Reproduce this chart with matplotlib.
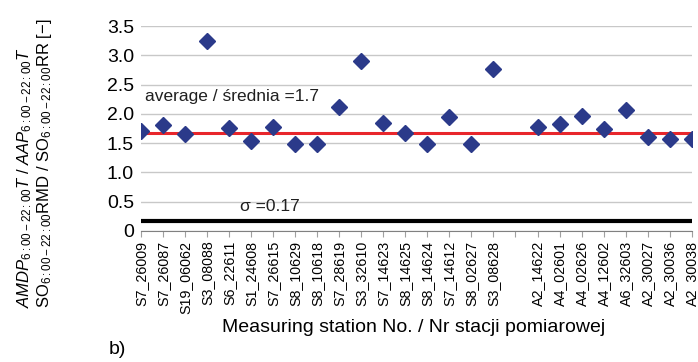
import matplotlib
matplotlib.use("Agg")
import matplotlib.pyplot as plt

plt.rcParams['font.family'] = ['Liberation Sans', 'DejaVu Sans']
plt.rcParams['mathtext.fontset'] = 'custom'
plt.rcParams['mathtext.rm'] = 'Liberation Sans'
plt.rcParams['mathtext.it'] = 'Liberation Sans:italic'

# station labels, "" marks the empty slot between the S and A groups
stations = ["S7_26009", "S7_26087", "S19_06062", "S3_08088", "S6_22611", "S1_24608",
            "S7_26615", "S8_10629", "S8_10618", "S7_28619", "S3_32610", "S7_14623",
            "S8_14625", "S8_14624", "S7_14612", "S8_02627", "S3_08628", "",
            "A2_14622", "A4_02601", "A4_02626", "A4_12602", "A6_32603", "A2_30027",
            "A2_30036", "A2_30038"]
ratio = [1.70, 1.81, 1.65, 3.24, 1.76, 1.53, 1.77, 1.49, 1.49, 2.12, 2.91, 1.85,
         1.67, 1.49, 1.95, 1.49, 2.77, None,
         1.78, 1.83, 1.97, 1.75, 2.06, 1.60, 1.57, 1.57]
average = 1.68
sigma = 0.17

fig = plt.figure(figsize=(6.98, 3.62), dpi=100)
ax = fig.add_axes([0.202, 0.362, 0.789, 0.566])

xs = [i for i, v in enumerate(ratio) if v is not None]
ys = [v for v in ratio if v is not None]

ax.set_ylim(0, 3.5)
ax.set_xlim(0, len(stations) - 1)
ax.set_yticks([0, 0.5, 1.0, 1.5, 2.0, 2.5, 3.0, 3.5])
ax.set_yticklabels(["0", "0.5", "1.0", "1.5", "2.0", "2.5", "3.0", "3.5"], fontsize=14)
ax.yaxis.grid(True, color="#c8c8c8", linewidth=1)
ax.set_axisbelow(True)

ax.axhline(average, color="#e8262b", linewidth=2.2, zorder=2)
ax.axhline(sigma, color="black", linewidth=3, zorder=2)
ax.plot(xs, ys, linestyle="none", marker="D", markersize=8, color="#2b3a8a", zorder=3)

ax.set_xticks(range(len(stations)))
ax.set_xticklabels(stations, rotation=90, fontsize=10.3)
ax.tick_params(axis="x", length=4, color="#a0a0a0", pad=3)
ax.tick_params(axis="y", length=0, pad=5)
for s in ["top", "right", "left"]:
    ax.spines[s].set_visible(False)
ax.spines["bottom"].set_color("#808080")
ax.spines["bottom"].set_clip_on(False)

ax.text(0.18, 2.29, "average / średnia =1.7", fontsize=12.5, va="center", ha="left",
        color="#202020", bbox=dict(facecolor="white", edgecolor="none", pad=1))
ax.text(4.5, 0.41, "σ =0.17", fontsize=12.5, va="center", ha="left", color="#202020")

# x axis title sits just under the rotated station names
fig.text(0.593, 0.083, "Measuring station No. / Nr stacji pomiarowej",
         fontsize=14, ha="center", va="baseline")

fig.text(0.036, 0.149, r"$AMDP_{\rm 6:00-22:00}T\ /\ AAP_{\rm 6:00-22:00}T$",
         rotation=90, fontsize=12, ha="center", va="bottom")
fig.text(0.064, 0.149, r"$\rm SO_{6:00-22:00}RMD\ /\ SO_{6:00-22:00}RR\ [-]$",
         rotation=90, fontsize=12, ha="center", va="bottom")
fig.text(0.155, 0.022, "b)", fontsize=14, ha="left", va="baseline")

fig.savefig("out.png", dpi=100)
